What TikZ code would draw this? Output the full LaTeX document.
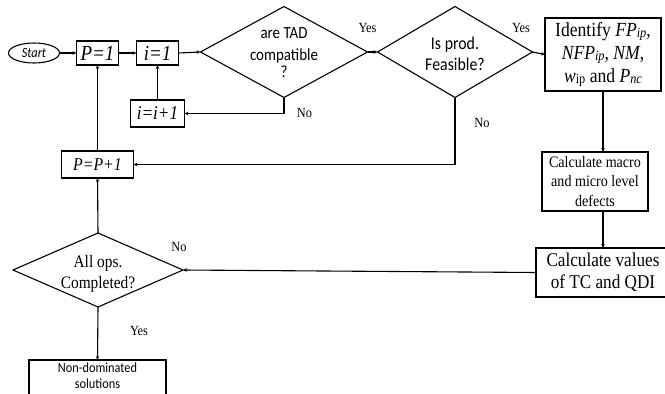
\documentclass[tikz,border=0pt]{standalone}
\usepackage{fontspec}
\setmainfont{Liberation Serif}[FakeStretch=0.88]
\newfontfamily\calfont{Carlito}[FakeStretch=0.88]
\usetikzlibrary{shapes.geometric,arrows.meta}
\newcommand{\dtxt}[2][0pt]{\smash{\makebox[0pt]{\raisebox{#1}{\begin{tabular}{@{}c@{}}#2\end{tabular}}}}}
\newcommand{\sbi}[1]{\raisebox{-1.5pt}{\fontsize{14}{14}\selectfont\itshape #1}}
\newcommand{\sbu}[1]{\raisebox{-1.5pt}{\fontsize{14}{14}\selectfont #1}}
\begin{document}
\begin{tikzpicture}[x=1pt,y=-1pt,
  box/.style={draw,line width=1.1pt,rectangle,inner sep=0pt,outer sep=0pt,align=center},
  dia/.style={draw,line width=1.1pt,diamond,inner sep=0pt,outer sep=0pt},
  arr/.style={line width=1.1pt,-{Stealth[length=4pt,width=3.5pt]}},
  lbl/.style={font=\fontsize{14}{16}\selectfont,inner sep=0pt}]
\useasboundingbox (0,0) rectangle (665,394);

\node[draw,ellipse,line width=1.1pt,minimum width=51pt,minimum height=20pt,inner sep=0pt,
      font=\calfont\itshape\fontsize{14}{16}\selectfont] (start) at (34,53) {Start};
\node[box,minimum width=42pt,minimum height=24pt,font=\itshape\fontsize{21.5}{24}\selectfont] (p1) at (97.5,53) {P=1};
\node[box,minimum width=42pt,minimum height=24pt,font=\itshape\fontsize{21.5}{24}\selectfont] (i1) at (157.5,53) {i=1};
\node[dia,minimum width=167pt,minimum height=91pt,font=\calfont\fontsize{17}{19}\selectfont] (d1) at (284,52)
  {\dtxt[-7pt]{are TAD\\[3pt]compatible\\[-2pt]?}};
\node[dia,minimum width=155pt,minimum height=91pt,font=\calfont\fontsize{18}{19}\selectfont] (d2) at (455,52)
  {\dtxt[-8.5pt]{Is prod.\\[2.5pt]Feasible?}};
\node[box,minimum width=116pt,minimum height=73pt,font=\fontsize{20}{23}\selectfont] (ident) at (603,54.5)
  {Identify \textit{FP}\sbi{ip},\\ \textit{NFP}\sbi{ip}, \textit{NM},\\ \textit{w}\sbu{ip} and \textit{P}\sbi{nc}};
\node[box,minimum width=106pt,minimum height=59pt,font=\fontsize{16}{19.5}\selectfont] (macro) at (595,181.5)
  {Calculate macro\\and micro level\\defects};
\node[box,minimum width=134pt,minimum height=49pt,font=\fontsize{19.5}{22}\selectfont] (values) at (603,272.5)
  {Calculate values\\of TC and QDI};
\node[box,minimum width=54pt,minimum height=27pt,font=\itshape\fontsize{19.5}{22}\selectfont] (ipp) at (157.5,113.5) {i=i+1};
\node[box,minimum width=72pt,minimum height=27pt,font=\itshape\fontsize{18}{20}\selectfont] (ppp) at (97.5,164.5) {P=P+1};
\node[dia,minimum width=170pt,minimum height=74pt,font=\fontsize{17.5}{19}\selectfont] (d3) at (98,270)
  {\dtxt[-9pt]{All ops.\\[2pt]Completed?}};
\node[box,minimum width=137pt,minimum height=37pt,
      label={[font=\calfont\fontsize{14}{15.5}\selectfont,align=center,yshift=3pt]center:Non-dominated\\solutions}]
  (nondom) at (97.5,378.5) {};

\draw[arr] (start.east) -- (p1.west);
\draw[arr] (p1.east) -- (i1.west);
\draw[arr] (i1.east) -- (d1.west);
\draw[arr] (d1.east) -- (d2.west);
\draw[arr] (d2.east) -- (ident.west);
\draw[arr] (d1.south) |- (ipp.east);
\draw[arr] (ipp.north) -- (i1.south);
\draw[arr] (d2.south) |- (ppp.east);
\draw[arr] (ppp.north) -- (p1.south);
\draw[arr] (ident.south) -- (ident.south |- macro.north);
\draw[arr] (ident.south |- macro.south) -- (values.north);
\draw[arr] (values.west) -- (d3.east);
\draw[arr] (d3.north) -- (ppp.south);
\draw[arr] (d3.south) -- (nondom.north);

\node[lbl] (yes1) at (367.5,28) {Yes};
\node[lbl] (yes2) at (521,28) {Yes};
\node[lbl] (no1) at (304.5,113) {No};
\node[lbl] (no2) at (482,123) {No};
\node[lbl] (no3) at (179,247) {No};
\node[lbl] (yes3) at (139,331) {Yes};
\end{tikzpicture}
\end{document}
